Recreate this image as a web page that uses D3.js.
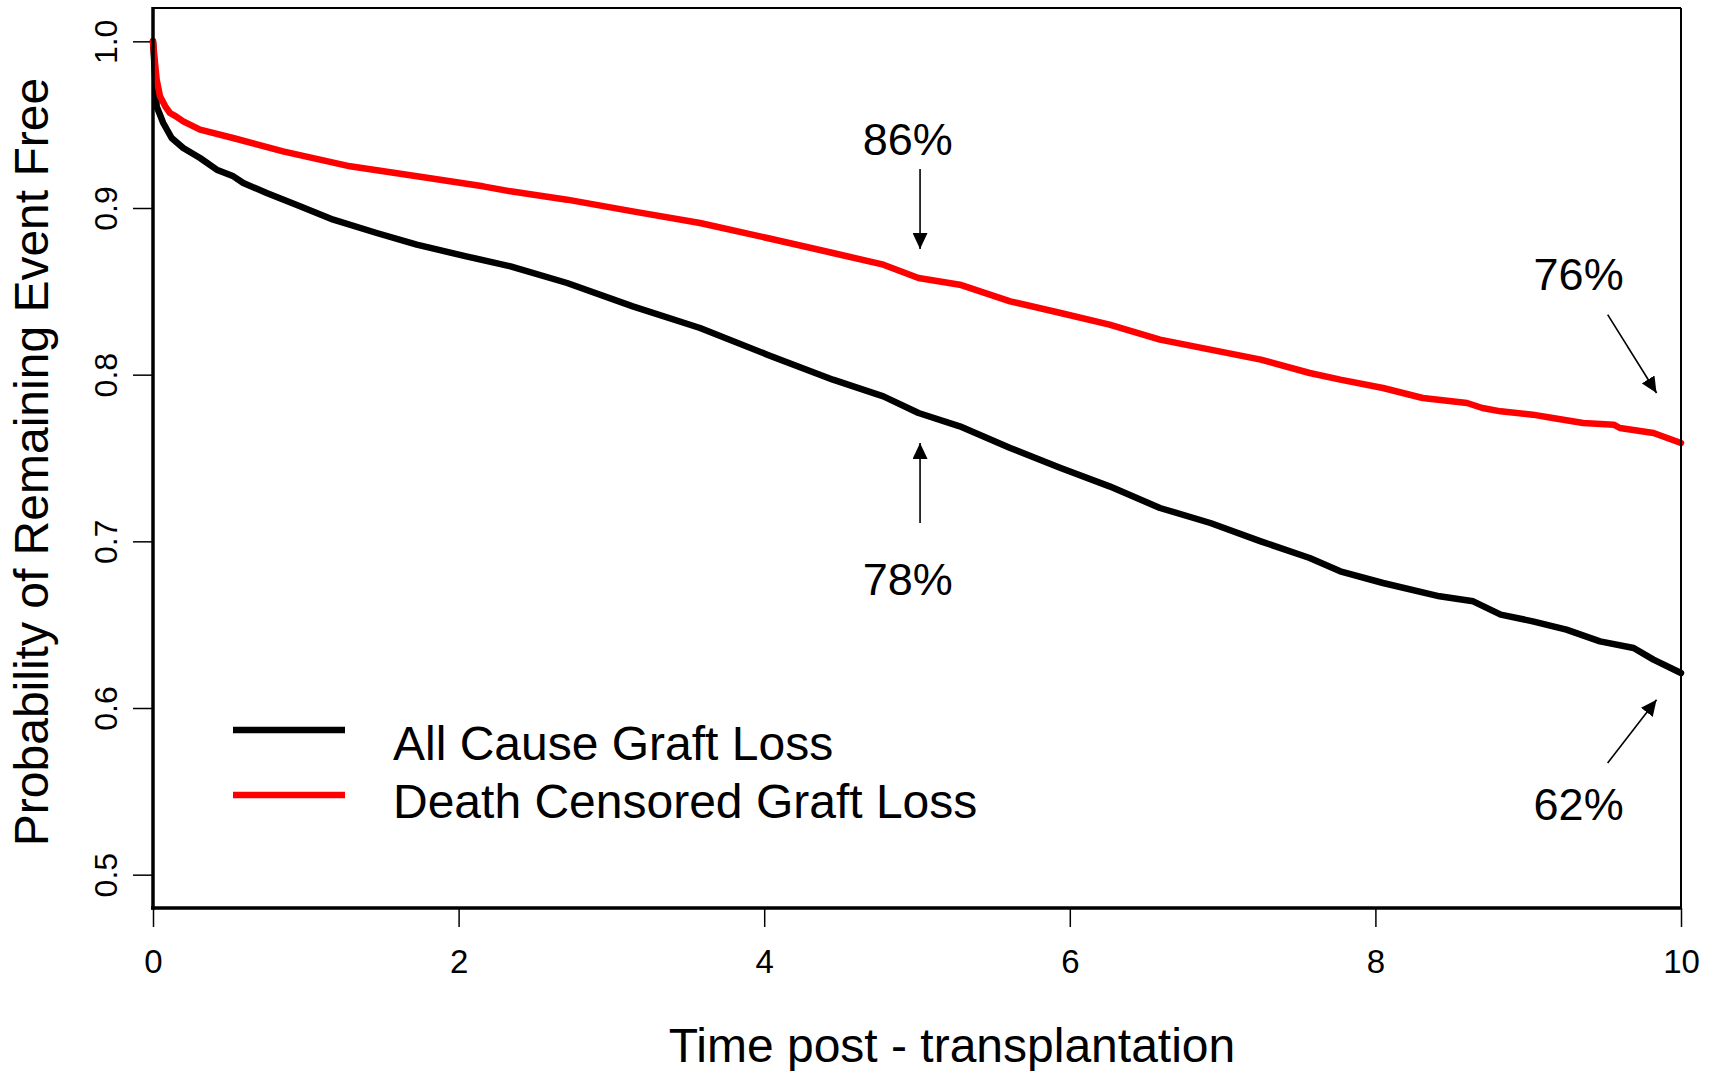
<!DOCTYPE html>
<html>
<head>
<meta charset="utf-8">
<script src="https://cdn.jsdelivr.net/npm/d3@7"></script>
<style>
  body { margin: 0; background: #fff; }
  text { font-family: "Liberation Sans", Arial, sans-serif; fill: #000; }
</style>
</head>
<body>
<script>
var width = 1714,
    height = 1071;

// survival curves (time in years, probability)
var allCauseT = [0, 0.01, 0.024, 0.067, 0.122, 0.198, 0.308, 0.417, 0.526, 0.591, 0.744, 0.962, 1.18, 1.464, 1.726,
  2.05, 2.34, 2.71, 3.14, 3.58, 4.02, 4.45, 4.78, 5.01, 5.28, 5.61, 5.94, 6.26, 6.59, 6.92, 7.25, 7.57, 7.77,
  8.05, 8.42, 8.64, 8.82, 9.03, 9.25, 9.47, 9.69, 9.82, 10];
var allCauseS = [1.0, 0.985, 0.961, 0.951, 0.942, 0.936, 0.930, 0.923, 0.919, 0.915, 0.909, 0.901, 0.893, 0.885, 0.878,
  0.871, 0.865, 0.855, 0.841, 0.828, 0.812, 0.797, 0.787, 0.777, 0.769, 0.756, 0.744, 0.733, 0.720, 0.711, 0.700, 0.690, 0.682,
  0.675, 0.667, 0.664, 0.656, 0.652, 0.647, 0.640, 0.636, 0.629, 0.621];

var deathCensT = [0, 0.01, 0.024, 0.046, 0.08, 0.111, 0.15, 0.198, 0.308, 0.524, 0.851, 1.29, 1.728, 2.16, 2.34,
  2.71, 3.14, 3.58, 4.02, 4.45, 4.78, 5.01, 5.28, 5.61, 5.94, 6.26, 6.59, 6.92, 7.25, 7.57, 7.77, 8.05, 8.31,
  8.60, 8.70, 8.82, 9.03, 9.16, 9.36, 9.56, 9.60, 9.82, 10];
var deathCensS = [1.0, 0.99, 0.977, 0.967, 0.961, 0.957, 0.955, 0.952, 0.947, 0.942, 0.934, 0.925, 0.919, 0.913, 0.910,
  0.905, 0.898, 0.891, 0.882, 0.873, 0.866, 0.858, 0.854, 0.844, 0.837, 0.830, 0.821, 0.815, 0.809, 0.801, 0.797, 0.792, 0.786,
  0.783, 0.780, 0.778, 0.776, 0.774, 0.771, 0.770, 0.768, 0.765, 0.759];

var seriesNames = ['All Cause Graft Loss', 'Death Censored Graft Loss'];
var seriesColors = ['#000000', '#ff0000'];

var xTicks = [0, 2, 4, 6, 8, 10];
var yTicks = [0.5, 0.6, 0.7, 0.8, 0.9, 1.0];

// annotation labels: text, arrow tail (t, s), arrow tip (t, s), label anchor (t, s)
var noteLabels = ['86%', '78%', '76%', '62%'];
var noteTail = [[5.02, 0.9234], [5.02, 0.711], [9.52, 0.836], [9.52, 0.567]];
var noteTip = [[5.02, 0.8754], [5.02, 0.759], [9.84, 0.789], [9.84, 0.605]];
var noteText = [[4.94, 0.932], [4.94, 0.668], [9.33, 0.851], [9.33, 0.533]];

var svg = d3.select('body').append('svg')
    .attr('width', width)
    .attr('height', height);

var xScale = d3.scaleLinear().domain([0, 10]).range([153, 1681]),
    yScale = d3.scaleLinear().domain([0.48, 1.02]).range([908, 8]);

// arrowhead
svg.append('defs').append('marker')
    .attr('id', 'head')
    .attr('markerUnits', 'userSpaceOnUse')
    .attr('viewBox', '0 0 16 15')
    .attr('refX', 16)
    .attr('refY', 7.5)
    .attr('markerWidth', 16)
    .attr('markerHeight', 15)
    .attr('orient', 'auto')
    .append('path')
    .attr('d', 'M0,0L16,7.5L0,15Z')
    .attr('fill', '#000');

// x axis
var xAxis = svg.append('g')
    .attr('transform', 'translate(0,908)')
    .call(d3.axisBottom(xScale).tickValues(xTicks).tickFormat(d3.format('d')).tickSize(19));
xAxis.select('.domain').remove();
xAxis.selectAll('line').attr('stroke', '#000').attr('stroke-width', 1.5);
xAxis.selectAll('text')
    .attr('font-size', 33)
    .attr('font-family', '"Liberation Sans", Arial, sans-serif')
    .attr('fill', '#000')
    .attr('dy', null)
    .attr('y', 65);

// y axis, labels rotated like R's default
var yAxis = svg.append('g')
    .attr('transform', 'translate(153,0)')
    .call(d3.axisLeft(yScale).tickValues(yTicks).tickFormat(d3.format('.1f')).tickSize(20));
yAxis.select('.domain').remove();
yAxis.selectAll('line').attr('stroke', '#000').attr('stroke-width', 1.5);
yAxis.selectAll('text')
    .attr('font-size', 32)
    .attr('font-family', '"Liberation Sans", Arial, sans-serif')
    .attr('fill', '#000')
    .attr('x', null).attr('dy', null)
    .attr('text-anchor', 'middle')
    .attr('transform', 'translate(-36,0) rotate(-90)');

// survival lines
var line = d3.line()
    .x(function(d) { return xScale(d[0]); })
    .y(function(d) { return yScale(d[1]); });

var curves = [d3.zip(allCauseT, allCauseS), d3.zip(deathCensT, deathCensS)];
svg.selectAll('.curve')
    .data(curves)
    .enter().append('path')
    .attr('class', 'curve')
    .attr('d', line)
    .attr('fill', 'none')
    .attr('stroke', function(d, i) { return seriesColors[i]; })
    .attr('stroke-width', 6.5)
    .attr('stroke-linejoin', 'round')
    .attr('stroke-linecap', 'round');

// plot frame: heavier left and bottom sides
svg.append('line').attr('x1', 153).attr('x2', 1681).attr('y1', 8).attr('y2', 8)
    .attr('stroke', '#000').attr('stroke-width', 2);
svg.append('line').attr('x1', 1681).attr('x2', 1681).attr('y1', 8).attr('y2', 908)
    .attr('stroke', '#000').attr('stroke-width', 2);
svg.append('line').attr('x1', 153).attr('x2', 153).attr('y1', 7).attr('y2', 909.5)
    .attr('stroke', '#000').attr('stroke-width', 3.5);
svg.append('line').attr('x1', 151).attr('x2', 1681).attr('y1', 908).attr('y2', 908)
    .attr('stroke', '#000').attr('stroke-width', 3.5);

// annotations
noteLabels.forEach(function(lbl, i) {
  svg.append('line')
      .attr('x1', xScale(noteTail[i][0])).attr('y1', yScale(noteTail[i][1]))
      .attr('x2', xScale(noteTip[i][0])).attr('y2', yScale(noteTip[i][1]))
      .attr('stroke', '#000').attr('stroke-width', 1.6)
      .attr('marker-end', 'url(#head)');
  svg.append('text')
      .attr('x', xScale(noteText[i][0]))
      .attr('y', yScale(noteText[i][1]))
      .attr('text-anchor', 'middle')
      .attr('font-size', 45)
      .text(lbl);
});

// legend
var legend = svg.append('g');
seriesNames.forEach(function(name, i) {
  var ly = 730 + i * 65;
  legend.append('line')
      .attr('x1', 233).attr('x2', 345).attr('y1', ly).attr('y2', ly)
      .attr('stroke', seriesColors[i]).attr('stroke-width', 6.5);
  legend.append('text')
      .attr('x', 393).attr('y', ly + 30 - i * 7)
      .attr('font-size', 48)
      .text(name);
});

// axis titles
svg.append('text')
    .attr('x', 952).attr('y', 1062)
    .attr('text-anchor', 'middle')
    .attr('font-size', 48)
    .text('Time post - transplantation');

svg.append('text')
    .attr('transform', 'translate(48,462) rotate(-90)')
    .attr('text-anchor', 'middle')
    .attr('font-size', 48)
    .text('Probability of Remaining Event Free');
</script>
</body>
</html>
